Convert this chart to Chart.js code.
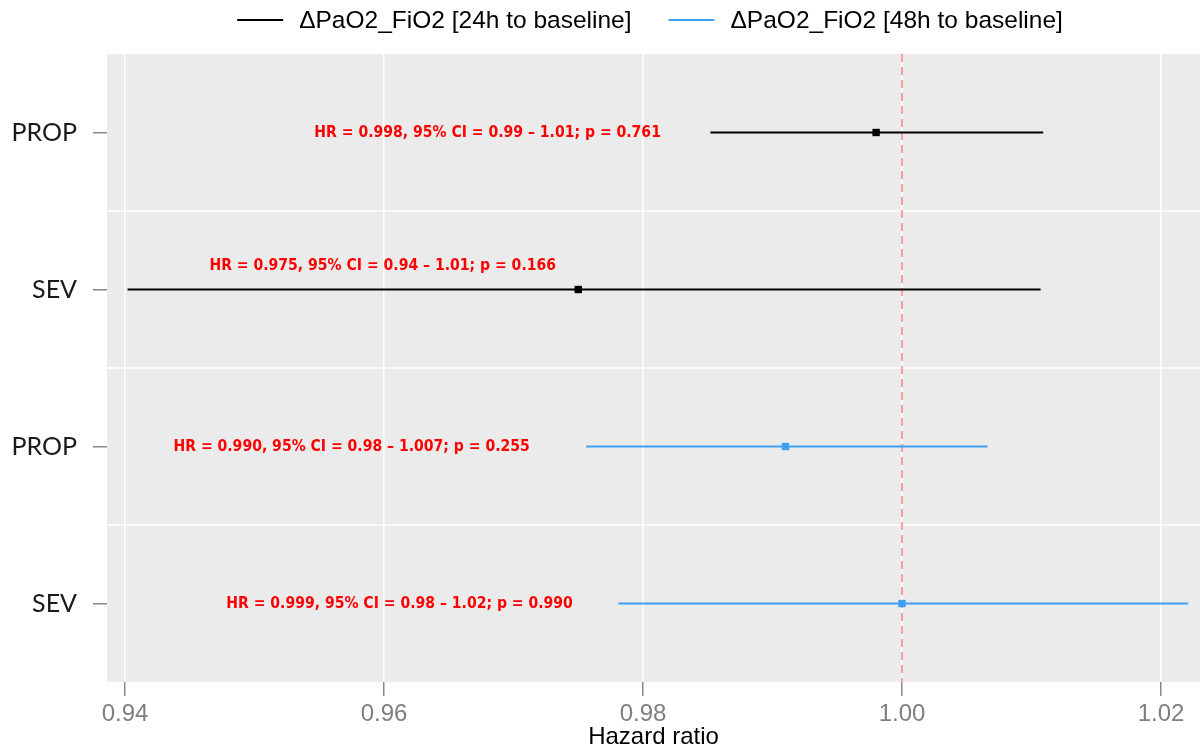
<!DOCTYPE html>
<html>
<head>
<meta charset="utf-8">
<script src="https://cdn.jsdelivr.net/npm/chart.js@4.4.1/dist/chart.umd.min.js"></script>
<style>
  html, body { margin: 0; padding: 0; background: #fff; }
  #wrap { width: 1200px; height: 749px; }
</style>
</head>
<body>
<div id="wrap"><canvas id="hrChart" width="1200" height="749"></canvas></div>
<script>
// rows from top to bottom
const rowLabels = ['PROP', 'SEV', 'PROP', 'SEV'];
const rowGroup = [0, 0, 1, 1];
const groupNames = ['ΔPaO2_FiO2 [24h to baseline]', 'ΔPaO2_FiO2 [48h to baseline]'];
const groupColors = ['#000000', '#3d9ff5'];

// hazard ratio and 95% CI
const hazard = [0.998, 0.975, 0.991, 1.000];
const ciLow = [0.9852, 0.9402, 0.9756, 0.9781];
const ciHigh = [1.0109, 1.0107, 1.0066, 1.0221];

// red annotations (centre x in HR units, y in row units)
const noteText = [
  'HR = 0.998, 95% CI = 0.99 – 1.01; p = 0.761',
  'HR = 0.975, 95% CI = 0.94 – 1.01; p = 0.166',
  'HR = 0.990, 95% CI = 0.98 – 1.007; p = 0.255',
  'HR = 0.999, 95% CI = 0.98 – 1.02; p = 0.990'
];
const noteX = [0.9680, 0.9599, 0.9575, 0.9612];
const noteY = [0, 0.85, 2, 3];

const xTicks = [0.94, 0.96, 0.98, 1.00, 1.02];
const refLine = 1.0;

const sansFont = '"Liberation Sans", Arial, sans-serif';

// one CI line dataset per group (null point breaks the line between rows)
const datasets = [];
groupNames.forEach((name, g) => {
  const seg = [];
  rowLabels.forEach((_, i) => {
    if (rowGroup[i] !== g) return;
    seg.push({ x: ciLow[i], y: i }, { x: ciHigh[i], y: i }, { x: null, y: null });
  });
  datasets.push({
    label: name,
    type: 'line',
    data: seg,
    borderColor: groupColors[g],
    borderWidth: 2,
    pointRadius: 0,
    spanGaps: false,
    fill: false
  });
});
groupNames.forEach((name, g) => {
  datasets.push({
    label: name + ' HR',
    type: 'scatter',
    data: rowLabels.map((_, i) => ({ x: hazard[i], y: i })).filter((_, i) => rowGroup[i] === g),
    pointStyle: 'rect',
    pointRadius: 5.2,
    backgroundColor: groupColors[g],
    borderColor: groupColors[g],
    borderWidth: 0
  });
});

const panelPlugin = {
  id: 'panel',
  beforeDraw(chart) {
    const { ctx, chartArea: a } = chart;
    ctx.save();
    ctx.fillStyle = '#EBEBEB';
    ctx.fillRect(a.left, a.top, a.right - a.left, a.bottom - a.top);
    ctx.restore();
  },
  beforeDatasetsDraw(chart) {
    const { ctx, chartArea: a, scales: { x, y } } = chart;
    ctx.save();
    // white separators between rows
    ctx.strokeStyle = '#ffffff';
    ctx.lineWidth = 1.5;
    for (let i = 0; i < rowLabels.length - 1; i++) {
      const py = y.getPixelForValue(i + 0.5);
      ctx.beginPath();
      ctx.moveTo(a.left, py);
      ctx.lineTo(a.right, py);
      ctx.stroke();
    }
    // dashed reference line at HR = 1
    const px = x.getPixelForValue(refLine);
    ctx.strokeStyle = '#f4837d';
    ctx.lineWidth = 1.5;
    ctx.setLineDash([8, 5]);
    ctx.beginPath();
    ctx.moveTo(px, a.top);
    ctx.lineTo(px, a.bottom);
    ctx.stroke();
    ctx.restore();
  },
  afterDatasetsDraw(chart) {
    const { ctx, scales: { x, y } } = chart;
    ctx.save();
    ctx.fillStyle = '#ff0000';
    ctx.font = 'bold 15.6px "Liberation Sans Narrow", "DejaVu Sans Condensed", sans-serif';
    ctx.textAlign = 'center';
    ctx.textBaseline = 'middle';
    noteText.forEach((t, i) => {
      ctx.fillText(t, x.getPixelForValue(noteX[i]), y.getPixelForValue(noteY[i]));
    });
    ctx.restore();
  },
  afterDraw(chart) {
    // legend on top
    const { ctx } = chart;
    ctx.save();
    ctx.font = '24.5px ' + sansFont;
    ctx.textBaseline = 'middle';
    const lineLen = 46, textGap = 16, itemGap = 37;
    const widths = groupNames.map(t => lineLen + textGap + ctx.measureText(t).width);
    const total = widths.reduce((s, w) => s + w, 0) + itemGap * (widths.length - 1);
    let cx = 650 - total / 2;
    groupNames.forEach((t, i) => {
      ctx.strokeStyle = groupColors[i];
      ctx.lineWidth = 2;
      ctx.beginPath();
      ctx.moveTo(cx, 20);
      ctx.lineTo(cx + lineLen, 20);
      ctx.stroke();
      ctx.fillStyle = '#000';
      ctx.fillText(t, cx + lineLen + textGap, 21);
      cx += widths[i] + itemGap;
    });
    ctx.restore();
  }
};

const chart = new Chart(document.getElementById('hrChart'), {
  data: { datasets: datasets },
  options: {
    responsive: false,
    animation: false,
    layout: { autoPadding: false, padding: { top: 54, right: 0, left: 0, bottom: 0 } },
    plugins: {
      legend: { display: false },
      tooltip: { enabled: false }
    },
    scales: {
      x: {
        type: 'linear',
        min: 0.93861,
        max: 1.02301,
        afterBuildTicks: ax => { ax.ticks = xTicks.map(v => ({ value: v })); },
        afterFit: ax => { ax.height = 67; ax.paddingLeft = 0; ax.paddingRight = 0; },
        ticks: {
          callback: v => Number(v).toFixed(2),
          color: '#7f7f7f',
          font: { family: sansFont, size: 24 },
          padding: 4,
          maxRotation: 0,
          autoSkip: false
        },
        grid: { color: '#ffffff', lineWidth: 1.5, tickColor: '#888888', tickLength: 14 },
        border: { display: false },
        title: {
          display: true,
          text: 'Hazard ratio',
          color: '#000000',
          font: { family: sansFont, size: 24, lineHeight: 1.0 },
          padding: { top: 0, bottom: 0 }
        }
      },
      y: {
        type: 'linear',
        min: -0.5,
        max: 3.5,
        reverse: true,
        afterBuildTicks: ax => { ax.ticks = rowLabels.map((_, i) => ({ value: i })); },
        afterFit: ax => { ax.width = 107; },
        ticks: {
          callback: v => rowLabels[v],
          color: '#1a1a1a',
          font: { family: 'Lato', size: 25 },
          padding: 16,
          autoSkip: false
        },
        grid: { color: 'rgba(0,0,0,0)', tickColor: '#888888', tickLength: 14, lineWidth: 1.5 },
        border: { display: false }
      }
    }
  },
  plugins: [panelPlugin]
});
</script>
</body>
</html>
